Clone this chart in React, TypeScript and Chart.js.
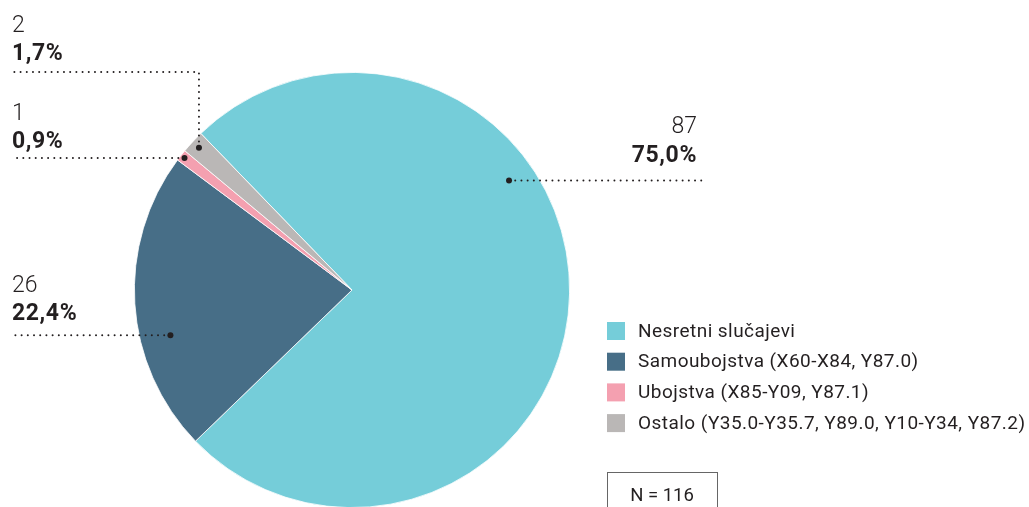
import React, { useEffect, useRef } from "react";
import { Chart, registerables } from "chart.js";

Chart.register(...registerables);

const categories = [
  "Nesretni slučajevi",
  "Samoubojstva (X60-X84, Y87.0)",
  "Ubojstva (X85-Y09, Y87.1)",
  "Ostalo (Y35.0-Y35.7, Y89.0, Y10-Y34, Y87.2)",
];
const counts = [87, 26, 1, 2];
const percentLabels = ["75,0%", "22,4%", "0,9%", "1,7%"];
const colors = ["#75CDD9", "#476E87", "#F4A0B0", "#BAB7B6"];
const totalLabel = "N = 116";

const TEXT = "#231F20";

// layout of the callouts (t = position within slice, r = fraction of radius)
const callouts = [
  { t: 0.367, r: 0.88, side: "right", endX: 706, textX: 697, nOff: -47, pOff: -18, elbowY: null as number | null },
  { t: 0.372, r: 0.86, side: "left", endX: 12, textX: 12, nOff: -43, pOff: -15, elbowY: null as number | null },
  { t: 0.5, r: 0.98, side: "left", endX: 12, textX: 12, nOff: -38, pOff: -10, elbowY: null as number | null },
  { t: 0.5, r: 0.96, side: "left", endX: 12, textX: 12, nOff: -40, pOff: -12, elbowY: 72 as number | null },
];

function dotted(ctx: CanvasRenderingContext2D, pts: [number, number][]) {
  ctx.save();
  ctx.strokeStyle = TEXT;
  ctx.lineWidth = 2;
  ctx.lineCap = "round";
  ctx.setLineDash([0, 6.2]);
  ctx.beginPath();
  ctx.moveTo(pts[0][0], pts[0][1]);
  for (let i = 1; i < pts.length; i++) ctx.lineTo(pts[i][0], pts[i][1]);
  ctx.stroke();
  ctx.restore();
}

const calloutPlugin = {
  id: "callouts",
  afterDraw(chart: any) {
    const ctx: any = chart.ctx;
    const meta = chart.getDatasetMeta(0);
    meta.data.forEach((arc: any, i: number) => {
      const c = callouts[i];
      const a = arc.startAngle + (arc.endAngle - arc.startAngle) * c.t;
      const dx = arc.x + Math.cos(a) * arc.outerRadius * c.r;
      const dy = arc.y + Math.sin(a) * arc.outerRadius * c.r;
      let lineY = dy;
      if (c.elbowY !== null) {
        lineY = c.elbowY;
        dotted(ctx, [[dx, dy], [dx, lineY], [c.endX, lineY]]);
      } else {
        dotted(ctx, [[dx, dy], [c.endX, dy]]);
      }
      ctx.save();
      ctx.fillStyle = TEXT;
      ctx.beginPath();
      ctx.arc(dx, dy, 3, 0, Math.PI * 2);
      ctx.fill();
      ctx.textAlign = c.side === "right" ? "right" : "left";
      ctx.textBaseline = "alphabetic";
      ctx.letterSpacing = "0px";
      ctx.font = "300 23px Roboto";
      ctx.fillText(String(counts[i]), c.textX, lineY + c.nOff);
      ctx.letterSpacing = "0.6px";
      ctx.font = "700 23px Roboto";
      ctx.fillText(percentLabels[i], c.textX, lineY + c.pOff);
      ctx.restore();
    });

    // legend
    ctx.save();
    const lx = 607;
    const ly0 = 331;
    const step = 30.7;
    ctx.font = "400 19px Roboto";
    ctx.letterSpacing = "0.45px";
    ctx.textBaseline = "middle";
    ctx.textAlign = "left";
    chart.data.labels.forEach((lab: string, i: number) => {
      const cy = ly0 + i * step;
      ctx.fillStyle = colors[i];
      ctx.fillRect(lx, cy - 9, 18, 18);
      ctx.fillStyle = TEXT;
      ctx.fillText(lab, lx + 31, cy + 1);
    });
    // N box
    ctx.letterSpacing = "0px";
    ctx.strokeStyle = "#666";
    ctx.lineWidth = 1;
    ctx.strokeRect(607.5, 472.5, 110, 60);
    ctx.fillStyle = TEXT;
    ctx.textAlign = "center";
    ctx.textBaseline = "alphabetic";
    ctx.font = "400 18.5px Roboto";
    ctx.fillText(totalLabel, 662, 501);
    ctx.restore();
  },
};

export default function App() {
  const ref = useRef<HTMLCanvasElement | null>(null);
  useEffect(() => {
    if (!ref.current) return;
    const chart = new Chart(ref.current, {
      type: "pie",
      data: {
        labels: categories,
        datasets: [
          {
            data: counts,
            backgroundColor: colors,
            borderColor: "#ffffff",
            borderWidth: 0.8,
          },
        ],
      },
      options: {
        responsive: false,
        maintainAspectRatio: false,
        animation: false,
        rotation: -44,
        layout: { padding: { left: 134, right: 459, top: 72, bottom: 12 } },
        plugins: {
          legend: { display: false },
          tooltip: { enabled: false },
        },
      },
      plugins: [calloutPlugin],
    });
    return () => chart.destroy();
  }, []);
  return (
    <div
      style={{
        position: "absolute",
        left: 0,
        top: 0,
        width: 1029,
        height: 507,
        overflow: "hidden",
        background: "#fff",
      }}
    >
      <canvas ref={ref} width={1029} height={520} style={{ display: "block" }} />
    </div>
  );
}
